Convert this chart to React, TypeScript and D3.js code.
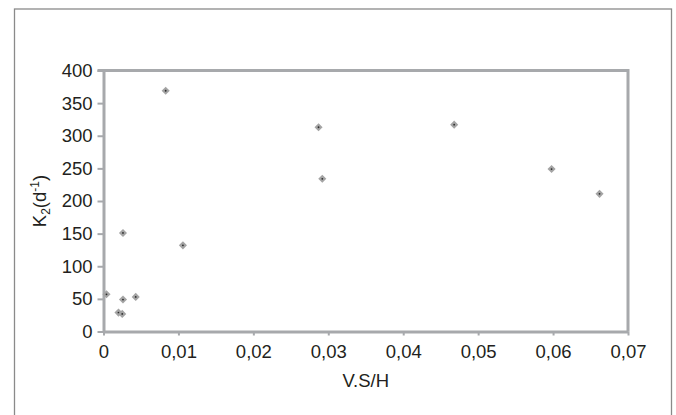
import { useEffect, useRef } from 'react';
import * as d3 from 'd3';

// V.S/H against K2 (d-1)
const vsh = [0.0004, 0.002, 0.0025, 0.0026, 0.0026, 0.0043, 0.0083, 0.0106, 0.0287, 0.0292, 0.0468, 0.0598, 0.0662];
const k2 = [57, 29, 27, 49, 151, 53, 369, 132, 313, 234, 317, 249, 211];
const xTicks = [0, 0.01, 0.02, 0.03, 0.04, 0.05, 0.06, 0.07];
const yTicks = [0, 50, 100, 150, 200, 250, 300, 350, 400];

const width = 676;
const height = 415;
const margin = { top: 70.5, right: 48, bottom: 83.5, left: 103.5 };
const axisGrey = '#a7a9ac';
const font = '"Liberation Sans", Arial, sans-serif';

export default function App() {
    const xAxisEl = useRef<SVGGElement>(null);
    const yAxisEl = useRef<SVGGElement>(null);

    const x = d3.scaleLinear().domain([0, 0.07]).range([margin.left, width - margin.right]);
    const y = d3.scaleLinear().domain([0, 400]).range([height - margin.bottom, margin.top]);
    const diamond = d3.symbol(d3.symbolDiamond2, 42)();

    useEffect(() => {
        const style = (g: d3.Selection<SVGGElement, unknown, null, undefined>) => {
            g.select('.domain').attr('stroke', axisGrey).attr('stroke-width', 3);
            g.selectAll('.tick line').attr('stroke', axisGrey).attr('stroke-width', 2);
            g.selectAll('.tick text')
                .attr('fill', '#231f20')
                .style('font-family', font)
                .style('font-size', '18.5px');
        };
        if (xAxisEl.current) {
            d3.select(xAxisEl.current)
                .call(
                    d3
                        .axisBottom(x)
                        .tickValues(xTicks)
                        .tickSize(4)
                        .tickSizeOuter(0)
                        .tickPadding(9)
                        .tickFormat((d) => (d.valueOf() === 0 ? '0' : d3.format('.2f')(d).replace('.', ',')))
                )
                .call(style);
        }
        if (yAxisEl.current) {
            d3.select(yAxisEl.current)
                .call(d3.axisLeft(y).tickValues(yTicks).tickSize(6).tickSizeOuter(0).tickPadding(5))
                .call(style);
        }
    }, []);

    return (
        <svg
            width={width}
            height={height}
            viewBox={`0 0 ${width} ${height}`}
            style={{ position: 'absolute', left: 0, top: 0, background: '#fff' }}
        >
            <rect x={14.5} y={9} width={657} height={420} fill="none" stroke="#8a8a8a" strokeWidth={1.3} />
            <path
                d={`M${margin.left - 6},${y(400)}H${x(0.07)}V${y(0)}`}
                fill="none"
                stroke={axisGrey}
                strokeWidth={3}
            />
            <g ref={xAxisEl} transform={`translate(0, ${y(0)})`} />
            <g ref={yAxisEl} transform={`translate(${x(0)}, 0)`} />
            {vsh.map((v, i) => (
                <g key={i} transform={`translate(${x(v)}, ${y(k2[i])})`}>
                    <path d={diamond ?? ''} fill="#a4a4a4" />
                    <circle r={0.9} fill="#2a2a2a" />
                </g>
            ))}
            <text
                transform={`translate(46, ${(y(0) + y(400)) / 2}) rotate(-90)`}
                textAnchor="middle"
                fill="#231f20"
                style={{ fontFamily: font, fontSize: 18.5 }}
            >
                K<tspan fontSize={12} dy={4}>2</tspan>
                <tspan dy={-4}>(d</tspan>
                <tspan fontSize={12} dy={-7}>-1</tspan>
                <tspan dy={7}>)</tspan>
            </text>
            <text
                x={(x(0) + x(0.07)) / 2}
                y={387}
                textAnchor="middle"
                fill="#231f20"
                style={{ fontFamily: font, fontSize: 18.5 }}
            >
                V.S/H
            </text>
        </svg>
    );
}
